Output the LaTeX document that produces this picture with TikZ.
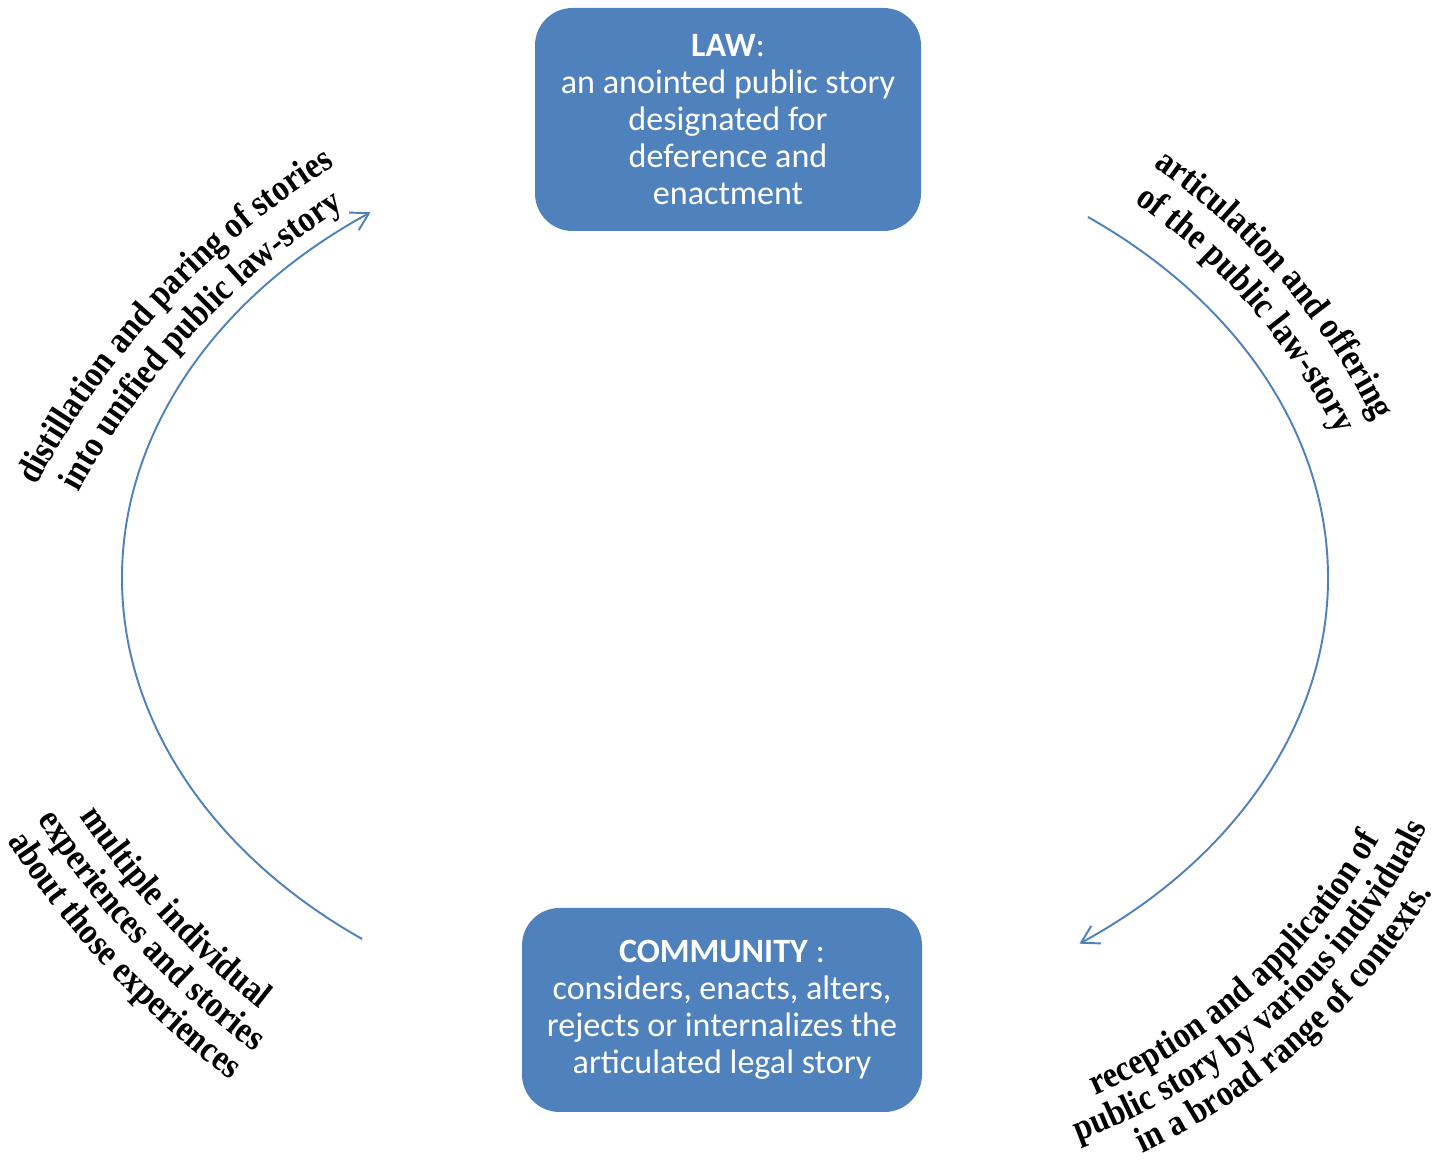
\documentclass[tikz,border=0pt]{standalone}
\usepackage{fontspec}
\usetikzlibrary{arrows.meta,decorations.text}
\newfontfamily\boxfont{Carlito}
\newfontfamily\lblfont[FakeStretch=0.88]{Liberation Serif}
\definecolor{lawblue}{HTML}{4F81BD}
\newcommand{\lblfmt}{\lblfont\bfseries\fontsize{21}{24}\selectfont}

\begin{document}
\begin{tikzpicture}[x=0.2mm,y=0.2mm,
  box/.style={fill=lawblue,rounded corners=0.75cm,text=white,align=center,
    font=\boxfont\fontsize{19.4}{21.1}\selectfont},
  cyc/.style={draw=lawblue,line width=1.1pt,-{Straight Barb[length=3.4mm,width=4mm]}},
  lbl/.style={decorate,decoration={text along path,text align=center,text={|\lblfmt|#1}}}]
\useasboundingbox (0,0) rectangle (1442,1162);
\node[box,minimum width=7.72cm,minimum height=4.46cm] (law) at (728,1042.5)
  {\textbf{LAW}:\\an anointed public story\\designated for\\deference and\\enactment};
\node[box,minimum width=8cm,minimum height=4.08cm] (comm) at (722,152)
  {\textbf{COMMUNITY} :\\considers, enacts, alters,\\rejects or internalizes the\\articulated legal story};
% the cycle
\coordinate (c) at (725,584);
\draw[cyc] (c) ++(233:603 and 452) arc[start angle=233,end angle=126,x radius=603,y radius=452];
\draw[cyc] (c) ++(53:603 and 452) arc[start angle=53,end angle=-54,x radius=603,y radius=452];
% curved labels
\coordinate (tl) at (789,273);
\path[lbl={distillation and paring of stories}] (tl) ++(172:854) arc[start angle=172,end angle=102,radius=854];
\path[lbl={into unified public law-story}] (tl) ++(172:814) arc[start angle=172,end angle=102,radius=814];
\coordinate (tr) at (769,438);
\path[lbl={articulation and offering}] (tr) ++(76:677) arc[start angle=76,end angle=6,radius=677];
\path[lbl={of the public law-story}] (tr) ++(76:637) arc[start angle=76,end angle=6,radius=637];
\coordinate (br) at (857,617);
\path[lbl={reception and application of}] (br) ++(-83:600) arc[start angle=-83,end angle=-13,radius=600];
\path[lbl={public story by various individuals}] (br) ++(-83:636) arc[start angle=-83,end angle=-13,radius=636];
\path[lbl={in a broad range of contexts.}] (br) ++(-83:672) arc[start angle=-83,end angle=-13,radius=672];
\coordinate (bl) at (781,819);
\path[lbl={multiple individual}] (bl) ++(188:846) arc[start angle=188,end angle=258,radius=846];
\path[lbl={experiences and stories}] (bl) ++(188:883) arc[start angle=188,end angle=258,radius=883];
\path[lbl={about those experiences}] (bl) ++(188:920) arc[start angle=188,end angle=258,radius=920];
\end{tikzpicture}
\end{document}
